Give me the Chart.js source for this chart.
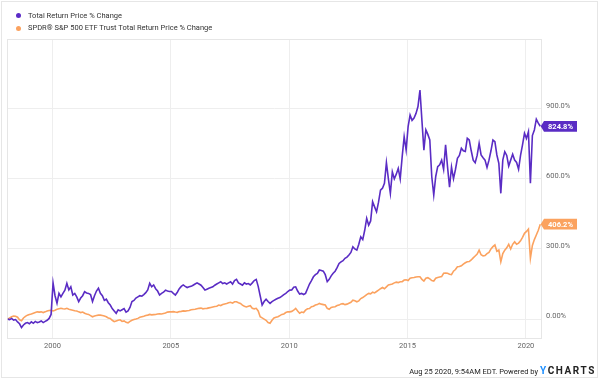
<!DOCTYPE html>
<html><head><meta charset="utf-8">
<script src="https://cdn.jsdelivr.net/npm/chart.js@4.4.1/dist/chart.umd.min.js"></script>
<style>
html,body{margin:0;padding:0;background:#fff;}
#wrap{position:relative;width:600px;height:380px;overflow:hidden;font-family:Roboto,"Noto Sans",sans-serif;}
#c{position:absolute;left:0;top:0;}
#frame{position:absolute;left:1px;top:1px;width:597px;height:377px;box-sizing:border-box;border:1px solid #e6e6e6;pointer-events:none;}
.leg{position:absolute;left:28px;font-size:7.5px;line-height:8px;height:8px;color:#333;white-space:nowrap;}
.dot{position:absolute;left:16px;width:5px;height:5px;border-radius:50%;}
#foot{position:absolute;right:62px;top:367px;font-size:7.5px;line-height:9px;color:#222;white-space:nowrap;}
#logo{position:absolute;left:540px;top:365px;font-size:10px;line-height:12px;font-weight:bold;letter-spacing:1.6px;color:#222;white-space:nowrap;}
#logo span{color:#1e8fff;}
</style></head>
<body>
<div id="wrap">
<canvas id="c" width="600" height="380"></canvas>
<div class="dot" style="top:13.2px;background:#5b2bc7"></div>
<div class="leg" style="top:11.7px">Total Return Price % Change</div>
<div class="dot" style="top:25.5px;background:#fba25f"></div>
<div class="leg" style="top:24px">SPDR® S&amp;P 500 ETF Trust Total Return Price % Change</div>
<div id="foot">Aug 25 2020, 9:54AM EDT. Powered by</div>
<div id="logo"><span>Y</span>CHARTS</div>
<div id="frame"></div>
</div>
<script>
// Monthly values, Feb 1998 .. Aug 2020 (% change)
const seriesNames = ["Total Return Price % Change", "SPDR® S&P 500 ETF Trust Total Return Price % Change"];
const purple = [
 0,-2,3,-4,-2,-12,-20,-36,-25,-18,-15,
 -20,-12,-18,-10,-15,-12,-8,-15,-10,-5,3,20,
 155,100,68,110,95,110,124,153,125,138,103,110,
 95,75,90,100,117,112,110,105,75,100,120,132,
 110,100,80,85,70,60,45,35,25,40,35,40,
 45,30,35,50,75,80,90,95,100,98,105,113,
 125,153,138,146,130,120,103,110,115,124,120,118,
 118,110,103,115,130,140,146,140,135,138,140,145,
 150,155,150,145,135,124,128,132,135,138,145,150,
 155,160,152,155,150,155,160,150,165,170,155,150,
 145,155,150,152,146,155,165,170,140,100,60,75,
 85,75,67,75,80,85,89,92,98,105,110,118,
 124,125,136,138,120,107,110,105,110,130,150,165,
 181,190,195,210,208,205,190,160,170,185,196,205,
 220,238,245,250,260,265,274,285,309,300,295,320,
 352,340,380,431,402,420,502,480,459,500,552,560,
 581,669,600,538,630,600,620,645,600,695,780,723,
 823,873,850,860,880,909,980,850,723,809,790,766,
 609,531,610,652,660,680,640,745,650,564,650,600,
 640,688,700,731,720,717,773,766,720,680,669,700,
 752,702,690,680,649,680,720,766,759,702,666,538,
 680,716,700,655,680,705,680,670,641,700,745,795,
 773,802,581,785,809,855,838,824.8
];
const orange = [
 0,5,10,13,12,8,-3,-7,5,12,17,
 20,22,25,28,31,30,31,28,31,35,37,38,
 35,38,42,44,46,44,43,46,42,40,38,36,
 35,31,28,30,25,22,20,15,10,13,15,17,
 17,15,13,10,5,3,-5,-11,-8,-5,-3,-10,
 -8,-14,-16,-10,-5,-2,0,3,8,10,12,15,
 17,20,18,19,20,22,23,22,24,26,30,31,
 31,32,30,29,32,33,35,34,36,37,40,41,
 42,44,46,47,44,45,46,48,50,52,54,55,
 60,58,62,65,67,70,72,68,74,74,70,67,
 60,55,52,55,57,46,44,46,35,10,5,0,
 -5,-15,-18,-5,5,8,10,15,20,22,28,31,
 31,33,38,46,35,25,30,28,38,44,45,53,
 55,60,62,67,64,62,60,46,42,50,52,53,
 58,60,65,66,62,64,68,72,81,78,74,78,
 88,92,98,105,110,108,115,112,118,124,130,135,
 130,138,146,148,150,155,158,156,160,160,167,168,
 165,175,177,178,180,181,181,170,163,175,177,172,
 165,163,175,178,180,182,196,197,196,192,190,205,
 212,224,225,228,235,241,245,246,253,262,270,278,
 295,275,270,272,280,285,300,310,317,290,295,245,
 280,295,305,320,300,320,331,320,325,335,350,367,
 375,385,260,315,340,360,380,406.2
];
const startYear = 1998.108; // first monthly observation (Feb 1998)
const dates = purple.map((_, i) => startYear + i / 12);
const xTicks = [2000, 2005, 2010, 2015, 2020];
const xTickLabels = ["2000", "2005", "2010", "2015", "2020"];
const yTicks = [0, 300, 600, 900];
const yTickLabels = ["0.00%", "300.0%", "600.0%", "900.0%"];
const lastLabels = ["824.8%", "406.2%"];
const colors = ["#5a2cc4", "#fba25f"];

const framePlugin = {
  id: 'frame',
  beforeDatasetsDraw(chart) {
    const a = chart.chartArea, c = chart.ctx;
    c.save();
    c.strokeStyle = '#e6e6e6';
    c.lineWidth = 1;
    c.strokeRect(a.left, a.top, a.right - a.left, a.bottom - a.top);
    c.restore();
  }
};
const tagPlugin = {
  id: 'tags',
  afterDatasetsDraw(chart) {
    const c = chart.ctx, a = chart.chartArea;
    chart.data.datasets.forEach((ds, di) => {
      const meta = chart.getDatasetMeta(di);
      const pt = meta.data[meta.data.length - 1];
      const y = pt.y;
      const x0 = a.right - 0.8, x1 = a.right + 2.5, x2 = a.right + 35.5, h = 10.7;
      c.save();
      c.fillStyle = colors[di];
      c.beginPath();
      c.moveTo(x0, y);
      c.lineTo(x1, y - h / 2);
      c.lineTo(x2, y - h / 2);
      c.lineTo(x2, y + h / 2);
      c.lineTo(x1, y + h / 2);
      c.closePath();
      c.fill();
      c.fillStyle = '#fff';
      c.font = 'bold 7.5px Roboto';
      c.textAlign = 'center';
      c.textBaseline = 'middle';
      c.fillText(lastLabels[di], (x1 + x2) / 2, y + 0.5);
      c.restore();
    });
  }
};

new Chart(document.getElementById('c'), {
  type: 'line',
  data: {
    datasets: [
      { label: seriesNames[0], data: dates.map((d, i) => ({ x: d, y: purple[i] })), borderColor: colors[0], borderWidth: 1.6, pointRadius: 0, tension: 0, fill: false },
      { label: seriesNames[1], data: dates.map((d, i) => ({ x: d, y: orange[i] })), borderColor: colors[1], borderWidth: 1.6, pointRadius: 0, tension: 0, fill: false }
    ]
  },
  options: {
    responsive: false,
    animation: false,
    layout: { padding: { left: 7.5, top: 39.5, right: 0, bottom: 0 } },
    plugins: { legend: { display: false }, tooltip: { enabled: false } },
    scales: {
      x: {
        type: 'linear', min: 1998.1, max: 2020.66,
        afterBuildTicks: s => { s.ticks = xTicks.map(v => ({ value: v })); },
        afterFit: s => { s.height = 41.5; },
        grid: { color: '#eeeeee', drawTicks: false },
        border: { display: false },
        ticks: { padding: 3.5, color: '#666', font: { family: 'Roboto', size: 7.5 }, maxRotation: 0, autoSkip: false,
          callback: (v, i) => xTickLabels[i] }
      },
      y: {
        position: 'right', min: -83, max: 1196,
        afterBuildTicks: s => { s.ticks = yTicks.map(v => ({ value: v })); },
        afterFit: s => { s.width = 58.5; },
        grid: { color: '#eeeeee', drawTicks: false },
        border: { display: false },
        ticks: { padding: 4.5, labelOffset: -3, color: '#666', font: { family: 'Roboto', size: 7.5 },
          callback: (v, i) => yTickLabels[i] }
      }
    }
  },
  plugins: [framePlugin, tagPlugin]
});
</script>
</body></html>
